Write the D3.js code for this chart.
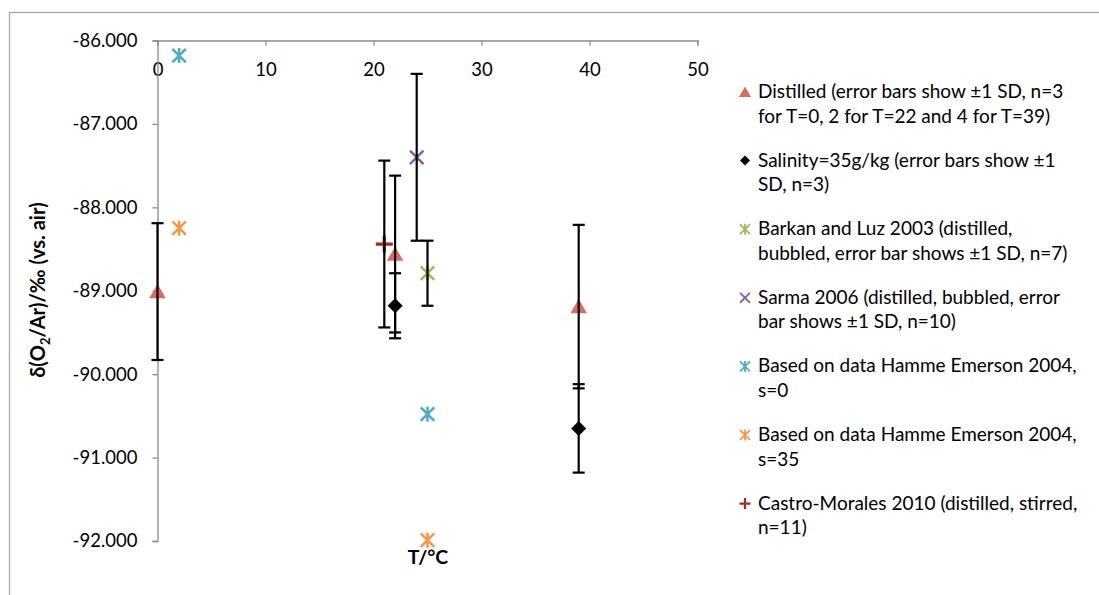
<!DOCTYPE html>
<head>
  <meta charset="utf-8">
  <script src="https://d3js.org/d3.v7.min.js"></script>
  <style>
    body { margin:0; background:#fff; }
    text { font-family: Lato, "Open Sans", sans-serif; fill:#000; }
    .axis path, .axis line { stroke:#8c8c8c; stroke-width:1.3; }
    .axis text { font-size:18.5px; }
    .ebar { stroke:#000; stroke-width:2.2; fill:none; }
    .legend text { font-size:19px; }
    .title { font-weight:bold; }
  </style>
</head>
<body>
  <script>
    // ---- data ----
    var distilledT = [0, 22, 39];
    var distilledVal = [-89.01, -88.56, -89.19];
    var distilledSD = [0.82, 0.94, 0.98];

    var salinityT = [22, 39];
    var salinityVal = [-89.18, -90.65];
    var salinitySD = [0.39, 0.53];

    var barkanT = [25];
    var barkanVal = [-88.79];
    var barkanSD = [0.39];

    var sarmaT = [24];
    var sarmaVal = [-87.40];
    var sarmaSD = [1.0];

    var hammeS0T = [2, 25];
    var hammeS0Val = [-86.18, -90.48];

    var hammeS35T = [2, 25];
    var hammeS35Val = [-88.25, -91.99];

    var castroT = [21];
    var castroVal = [-88.44];
    var castroSD = [1.0];

    var xTicks = [0, 10, 20, 30, 40, 50];
    var yTicks = [-86, -87, -88, -89, -90, -91, -92];

    var legendLabels = [
      ["Distilled (error bars show ±1 SD, n=3", "for T=0, 2 for T=22 and 4 for T=39)"],
      ["Salinity=35g/kg (error bars show ±1", "SD, n=3)"],
      ["Barkan and Luz 2003 (distilled,", "bubbled, error bar shows ±1 SD, n=7)"],
      ["Sarma 2006 (distilled, bubbled, error", "bar shows ±1 SD, n=10)"],
      ["Based on data Hamme Emerson 2004,", "s=0"],
      ["Based on data Hamme Emerson 2004,", "s=35"],
      ["Castro-Morales 2010 (distilled, stirred,", "n=11)"]
    ];

    function zip(t, v, sd) {
      return t.map(function(d, i) { return {t: d, v: v[i], sd: sd ? sd[i] : null}; });
    }

    var series = [
      {kind: "triangle", color: "#dd6a62", pts: zip(distilledT, distilledVal, distilledSD)},
      {kind: "diamond",  color: "#000000", pts: zip(salinityT, salinityVal, salinitySD)},
      {kind: "star",     color: "#9bbb59", pts: zip(barkanT, barkanVal, barkanSD)},
      {kind: "x",        color: "#8064a2", pts: zip(sarmaT, sarmaVal, sarmaSD)},
      {kind: "star",     color: "#4bacc6", pts: zip(hammeS0T, hammeS0Val)},
      {kind: "star",     color: "#f79646", pts: zip(hammeS35T, hammeS35Val)},
      {kind: "plus",     color: "#a52a22", pts: zip(castroT, castroVal, castroSD)}
    ];

    var width = 1099, height = 595;

    var svg = d3.select("body").append("svg")
      .attr("width", width)
      .attr("height", height);

    var defs = svg.append("defs");
    var f = defs.append("filter").attr("id", "soft")
      .attr("x", "-50%").attr("y", "-50%").attr("width", "200%").attr("height", "200%");
    f.append("feGaussianBlur").attr("stdDeviation", 0.5);

    // outer chart frame
    svg.append("rect")
      .attr("x", 9.5).attr("y", 12.5)
      .attr("width", 1200).attr("height", 700)
      .attr("fill", "none").attr("stroke", "#a6a6a6").attr("stroke-width", 1.3);

    var x = d3.scaleLinear().domain([0, 50]).range([157.5, 697.5]);
    var y = d3.scaleLinear().domain([-92, -86]).range([541, 40.5]);

    // x axis sits at top of plot (crosses at -86)
    svg.append("g")
      .attr("class", "x axis")
      .attr("transform", "translate(0," + y(-86) + ")")
      .call(d3.axisBottom(x).tickValues(xTicks).tickSize(5).tickPadding(17).tickSizeOuter(5));

    svg.append("g")
      .attr("class", "y axis")
      .attr("transform", "translate(" + x(0) + ",0)")
      .call(d3.axisLeft(y).tickValues(yTicks).tickSize(5).tickPadding(15).tickSizeOuter(5)
        .tickFormat(function(d) { return d.toFixed(3); }));

    svg.selectAll(".x.axis .tick text").attr("dy", "0.71em");

    // axis titles
    var yt = svg.append("text")
      .attr("class", "title")
      .attr("transform", "translate(45," + 290 + ") rotate(-90)")
      .attr("text-anchor", "middle")
      .style("font-size", "20px");
    yt.append("tspan").text("δ(O");
    yt.append("tspan").attr("dy", 5).style("font-size", "13px").text("2");
    yt.append("tspan").attr("dy", -5).text("/Ar)/‰ (vs. air)");

    svg.append("text")
      .attr("class", "title")
      .attr("x", 428).attr("y", 564)
      .attr("text-anchor", "middle")
      .style("font-size", "19.5px")
      .text("T/°C");

    function markerPath(kind, s) {
      var p = d3.path();
      if (kind === "triangle") {
        p.moveTo(0, -s * 0.5); p.lineTo(s * 0.55, s * 0.45); p.lineTo(-s * 0.55, s * 0.45); p.closePath();
      } else if (kind === "diamond") {
        p.moveTo(0, -s * 0.5); p.lineTo(s * 0.5, 0); p.lineTo(0, s * 0.5); p.lineTo(-s * 0.5, 0); p.closePath();
      } else if (kind === "x" || kind === "star") {
        var h = s * 0.45;
        p.moveTo(-h, -h); p.lineTo(h, h); p.moveTo(h, -h); p.lineTo(-h, h);
        if (kind === "star") { p.moveTo(0, -s * 0.5); p.lineTo(0, s * 0.5); }
      } else if (kind === "plus") {
        p.moveTo(-s * 0.5, 0); p.lineTo(s * 0.5, 0); p.moveTo(0, -s * 0.5); p.lineTo(0, s * 0.5);
      }
      return p.toString();
    }

    function styleMarker(sel, kind, color, s) {
      sel.attr("d", markerPath(kind, s));
      if (kind === "triangle" || kind === "diamond") {
        sel.attr("fill", color).attr("stroke", "none");
      } else {
        sel.attr("fill", "none").attr("stroke", color)
          .attr("stroke-width", kind === "plus" ? 3.2 : 2.5);
      }
    }

    // markers
    var plot = svg.append("g").attr("class", "markers");
    series.forEach(function(s) {
      plot.selectAll(null)
        .data(s.pts)
      .enter().append("path")
        .attr("transform", function(d) { return "translate(" + x(d.t) + "," + y(d.v) + ")"; })
        .attr("filter", "url(#soft)")
        .each(function() { styleMarker(d3.select(this), s.kind, s.color, s.kind === "plus" ? 17 : 15); });
    });

    // error bars on top
    var bars = svg.append("g").attr("class", "errorbars");
    series.forEach(function(s) {
      var pts = s.pts.filter(function(d) { return d.sd != null; });
      var g = bars.selectAll(null).data(pts).enter().append("g");
      g.append("line").attr("class", "ebar")
        .attr("x1", function(d) { return x(d.t); }).attr("x2", function(d) { return x(d.t); })
        .attr("y1", function(d) { return y(d.v + d.sd); }).attr("y2", function(d) { return y(d.v - d.sd); });
      [1, -1].forEach(function(sign) {
        g.append("line").attr("class", "ebar")
          .attr("x1", function(d) { return x(d.t) - 6; }).attr("x2", function(d) { return x(d.t) + 6; })
          .attr("y1", function(d) { return y(d.v + sign * d.sd); })
          .attr("y2", function(d) { return y(d.v + sign * d.sd); });
      });
    });

    // legend
    var legend = svg.append("g").attr("class", "legend").attr("transform", "translate(745,0)");
    var entry = legend.selectAll("g")
      .data(series)
    .enter().append("g")
      .attr("transform", function(d, i) { return "translate(0," + (92 + i * 68.6) + ")"; });

    entry.append("path")
      .each(function(d) { styleMarker(d3.select(this), d.kind, d.color, d.kind === "diamond" ? 10 : 11); })
      .attr("stroke-width", function(d) { return d.kind === "plus" ? 2.2 : (d.kind === "triangle" || d.kind === "diamond" ? null : 1.8); });

    entry.append("text")
      .attr("x", 13)
      .attr("y", 6)
      .selectAll("tspan")
      .data(function(d, i) { return legendLabels[i]; })
    .enter().append("tspan")
      .attr("x", 13)
      .attr("dy", function(d, j) { return j ? 24.5 : 0; })
      .text(function(d) { return d; });
  </script>
</body>
